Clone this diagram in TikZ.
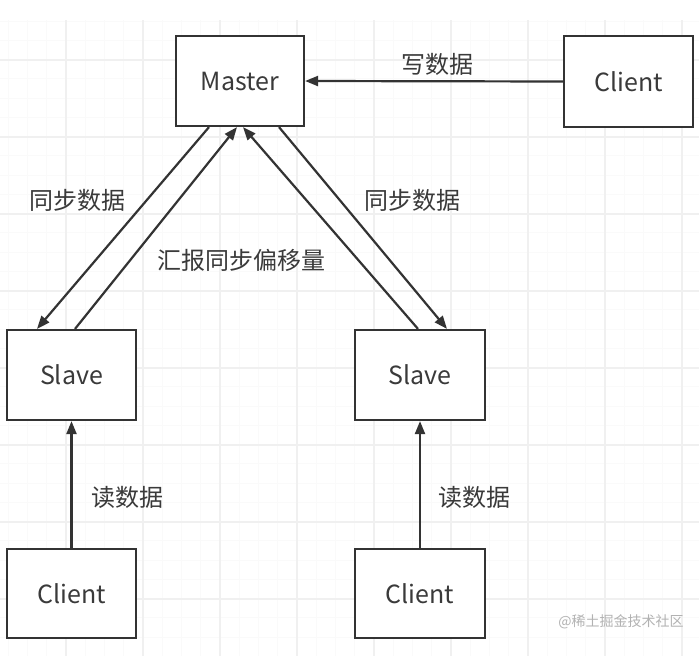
\documentclass[tikz,border=0pt]{standalone}
\usepackage{fontspec}
\setmainfont{Noto Sans CJK SC}
\usetikzlibrary{arrows.meta}
\definecolor{boxline}{HTML}{333333}
\definecolor{txt}{HTML}{3A3A3A}
\begin{document}
\begin{tikzpicture}[x=1pt,y=-1pt,
  box/.style={draw=boxline,line width=2.2pt,minimum width=128pt,minimum height=90pt,inner sep=0pt,text=txt,font=\fontsize{25}{30}\selectfont},
  lbl/.style={text=txt,inner sep=0pt,font=\fontsize{24}{28}\selectfont},
  arr/.style={draw=boxline,line width=2.2pt,-{Triangle[length=13pt,width=10pt]}},
  minorgrid/.style={draw=black!2,line width=0.8pt},
  majorgrid/.style={draw=black!6,line width=1.2pt}]
\useasboundingbox (0,0) rectangle (699,656);
\fill[white] (0,0) rectangle (699,656);
% background grid
\foreach \i in {0,...,36}{
  \draw[minorgrid] ({-11+19.25*\i},20) -- ({-11+19.25*\i},656);
}
\foreach \j in {0,...,33}{
  \draw[minorgrid] (0,{21+19.25*\j}) -- (699,{21+19.25*\j});
}
\foreach \i in {1,...,9}{
  \draw[majorgrid] ({-11+77*\i},20) -- ({-11+77*\i},656);
}
\foreach \j in {0,...,8}{
  \draw[majorgrid] (0,{-17+77*\j+0}) -- (699,{-17+77*\j+0});
}
\fill[white] (0,0) rectangle (699,20);
% nodes
\node[box,fill=white] (master) at (240,81) {Master};
\node[box,fill=white,minimum width=129pt,minimum height=91pt] (clientW) at (628.5,81.5) {Client};
\node[box,fill=white,minimum width=129pt] (slaveL) at (71.5,375) {Slave};
\node[box,fill=white,minimum width=130pt] (slaveR) at (420,375) {Slave};
\node[box,fill=white,minimum width=129pt,minimum height=89pt] (clientL) at (71.5,593.5) {Client};
\node[box,fill=white,minimum width=130pt,minimum height=89pt] (clientR) at (420,593.5) {Client};
% connectors
\draw[arr] (clientW.west) -- (master.east);
\draw[arr] ([xshift=-31pt]master.south) -- ([xshift=-34.5pt]slaveL.north);
\draw[arr] ([xshift=3.5pt]slaveL.north) -- ([xshift=-3pt]master.south);
\draw[arr] ([xshift=-2pt]slaveR.north) -- ([xshift=3pt]master.south);
\draw[arr] ([xshift=39pt]master.south) -- ([xshift=27pt]slaveR.north);
\draw[arr] (clientL.north) -- (slaveL.south);
\draw[arr] (clientR.north) -- (slaveR.south);
% labels
\node[lbl] (lw) at (437,64) {写数据};
\node[lbl] (ls1) at (77,200) {同步数据};
\node[lbl] (lrep) at (241,260) {汇报同步偏移量};
\node[lbl] (ls2) at (412,200) {同步数据};
\node[lbl] (lr1) at (127,497) {读数据};
\node[lbl] (lr2) at (474,497) {读数据};
\node[text=black!30,inner sep=0pt,font=\fontsize{14}{16}\selectfont] (wm) at (621,622) {@稀土掘金技术社区};
\end{tikzpicture}
\end{document}
